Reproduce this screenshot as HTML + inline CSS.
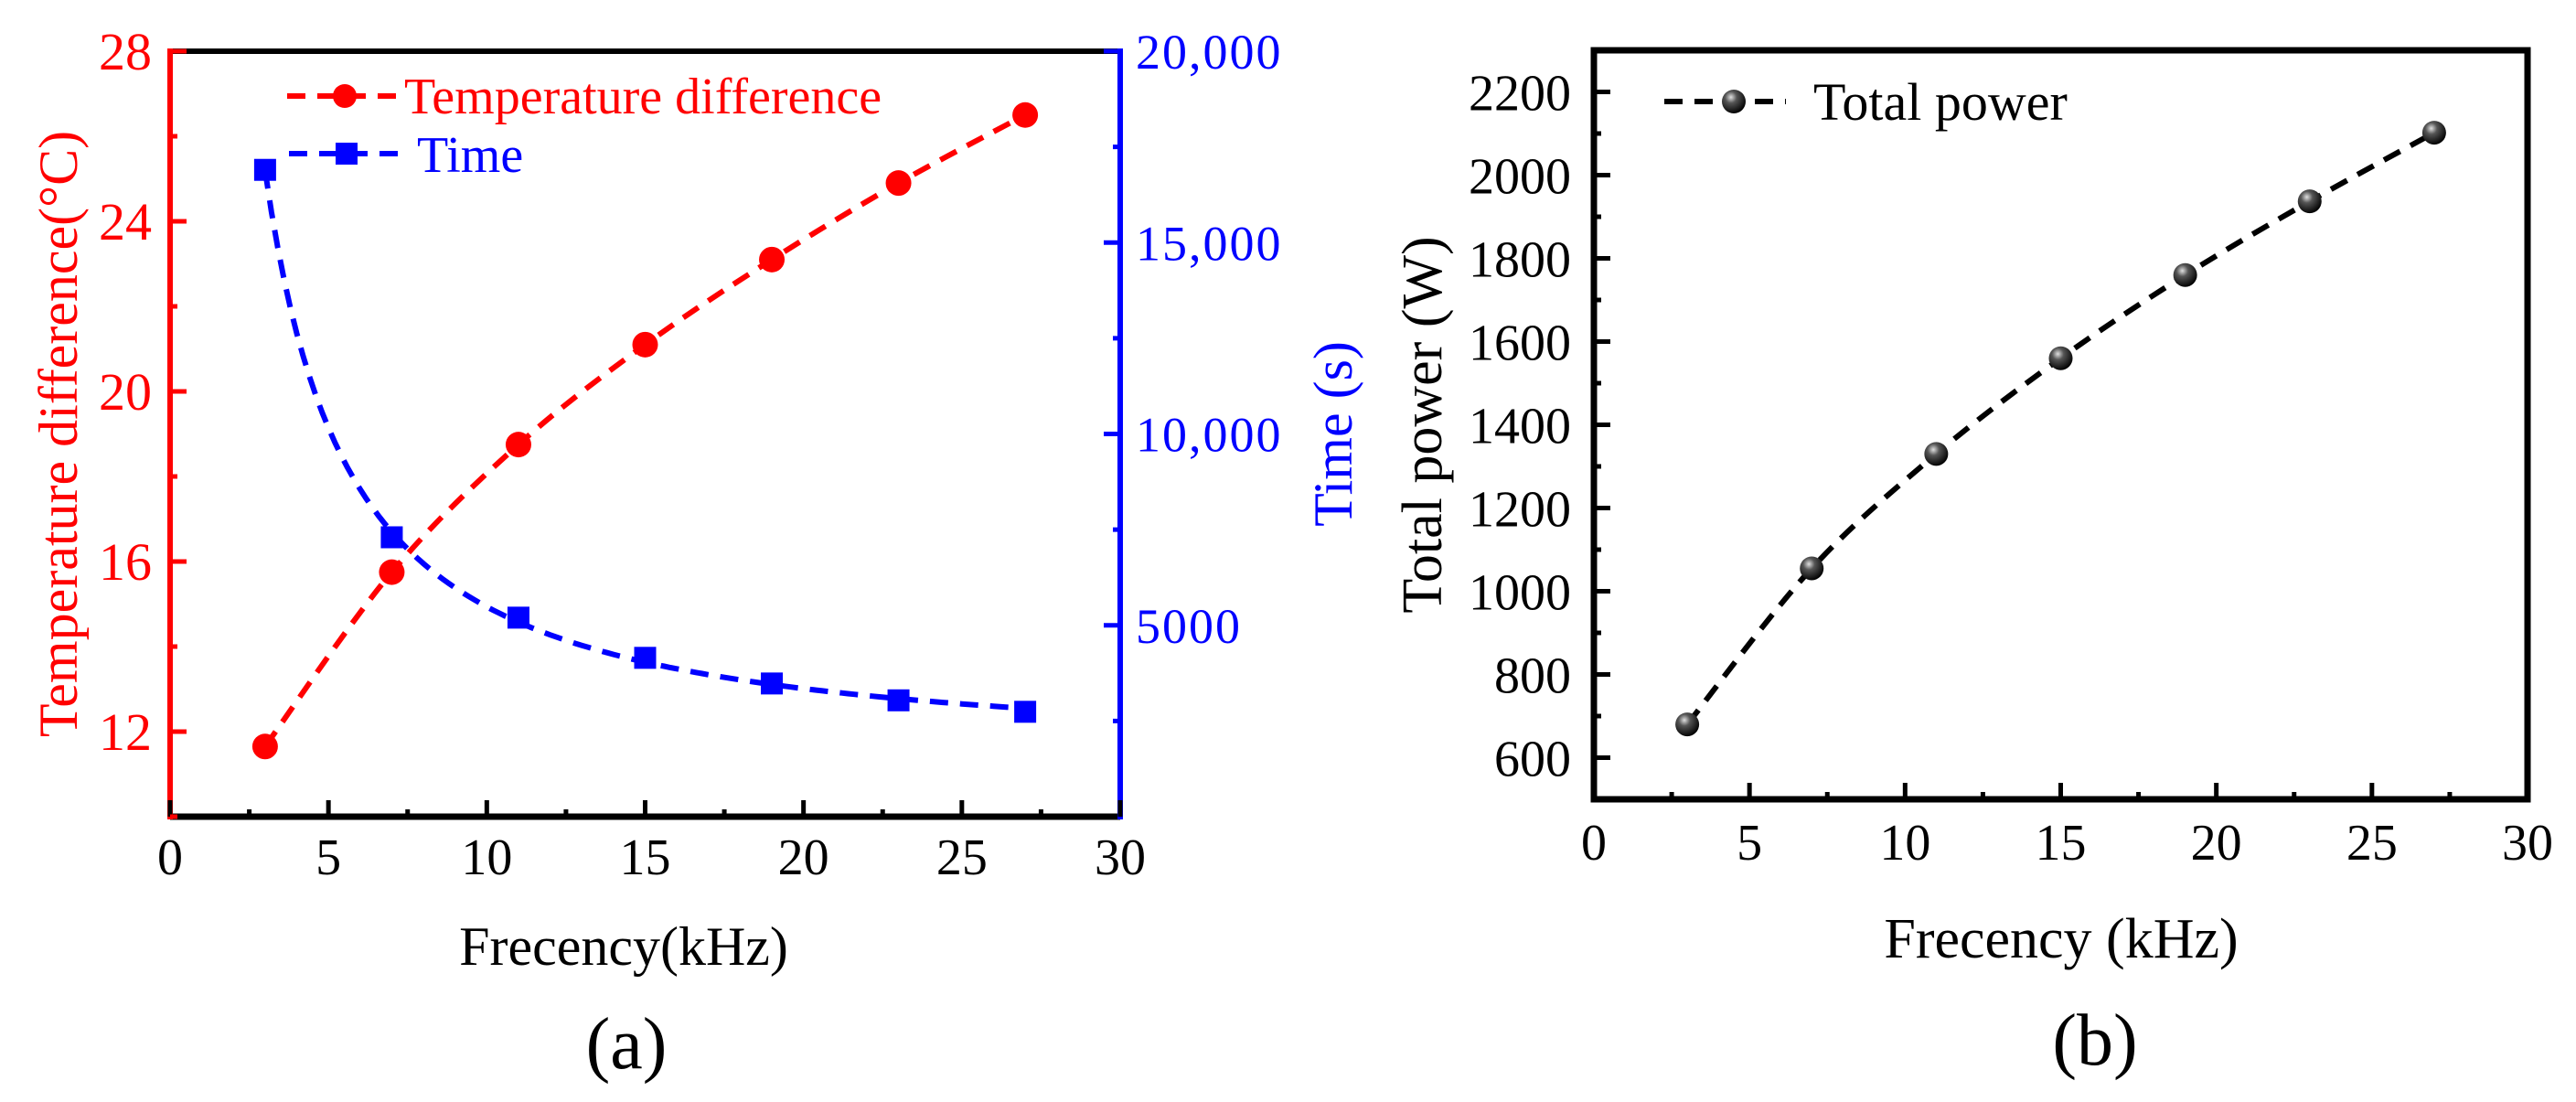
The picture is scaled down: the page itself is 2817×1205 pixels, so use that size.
<!DOCTYPE html>
<html><head><meta charset="utf-8"><style>
html,body{margin:0;padding:0;background:#fff;}
svg{display:block;}
text{font-family:"Liberation Serif","Times New Roman",serif !important;}
</style></head><body>
<svg id="fig" width="2817" height="1205" viewBox="0 0 2817 1205" xmlns="http://www.w3.org/2000/svg">
<defs>
<radialGradient id="sph" cx="0.38" cy="0.32" r="0.7">
<stop offset="0" stop-color="#e0e0e0"/><stop offset="0.35" stop-color="#555"/><stop offset="1" stop-color="#000"/>
</radialGradient>
</defs>
<g id="chartA"></g>
<g id="chartB"></g>
</svg>
<script>
const freqA = [3, 7, 11, 15, 19, 23, 27];
const tempDiff = [11.65, 15.75, 18.75, 21.1, 23.1, 24.9, 26.5];
const timeS = [16900, 7300, 5200, 4150, 3480, 3040, 2740];
const xTicks = [0, 5, 10, 15, 20, 25, 30];
const tempTicks = [12, 16, 20, 24, 28];
const timeTicks = [5000, 10000, 15000, 20000];
const timeTickLabels = ["5000", "10,000", "15,000", "20,000"];
const freqB = [3, 7, 11, 15, 19, 23, 27];
const power = [680, 1055, 1330, 1560, 1760, 1937, 2102];
const powerTicks = [600, 800, 1000, 1200, 1400, 1600, 1800, 2000, 2200];

const NS = "http://www.w3.org/2000/svg";
const FONT = "font-family:'Liberation Serif','Times New Roman',serif";
function mk(parent, tag, attrs, text) {
  const e = document.createElementNS(NS, tag);
  for (const k in attrs) e.setAttribute(k, attrs[k]);
  if (text !== undefined) { e.textContent = text; e.setAttribute("style", FONT); }
  parent.appendChild(e);
  return e;
}
function lin(d0, d1, r0, r1) { return v => r0 + (v - d0) / (d1 - d0) * (r1 - r0); }
function spline(pts) {
  let d = "M" + pts[0][0] + "," + pts[0][1];
  for (let i = 0; i < pts.length - 1; i++) {
    const p0 = pts[Math.max(0, i - 1)], p1 = pts[i], p2 = pts[i + 1], p3 = pts[Math.min(pts.length - 1, i + 2)];
    const c1x = p1[0] + (p2[0] - p0[0]) / 6, c1y = p1[1] + (p2[1] - p0[1]) / 6;
    const c2x = p2[0] - (p3[0] - p1[0]) / 6, c2y = p2[1] - (p3[1] - p1[1]) / 6;
    d += " C" + c1x + "," + c1y + " " + c2x + "," + c2y + " " + p2[0] + "," + p2[1];
  }
  return d;
}
// power-law fit y = c + a*x^(-p), least squares over grid of p
function powFit(xs, ys) {
  let best = null;
  for (let p = 0.3; p < 4; p += 0.005) {
    const e = xs.map(x => Math.pow(x, -p));
    const n = xs.length;
    const me = e.reduce((s, v) => s + v, 0) / n, my = ys.reduce((s, v) => s + v, 0) / n;
    let sxy = 0, sxx = 0;
    for (let i = 0; i < n; i++) { sxy += (e[i] - me) * (ys[i] - my); sxx += (e[i] - me) ** 2; }
    const a = sxy / sxx, c = my - a * me;
    let err = 0;
    for (let i = 0; i < n; i++) err += (c + a * e[i] - ys[i]) ** 2;
    if (!best || err < best.err) best = {a, p, c, err};
  }
  return x => best.c + best.a * Math.pow(x, -best.p);
}

/* ---------- Chart A ---------- */
const A = document.getElementById("chartA");
const axL = 186, axR = 1225, axT = 56, axB = 893;
const xA = lin(0, 30, axL, axR);
const yT = lin(10, 28, axB, axT);
const yS = lin(0, 20000, axB, axT);

let e;
e = mk(A, "line", {x1: axL, y1: axT, x2: axR, y2: axT, stroke: "#000", "stroke-width": 6});


e = mk(A, "line", {x1: axL, y1: axB, x2: axR, y2: axB, stroke: "#000", "stroke-width": 7});


e = mk(A, "line", {x1: axL, y1: axT - 3, x2: axL, y2: axB + 3, stroke: "#f00", "stroke-width": 6});


e = mk(A, "line", {x1: axR, y1: axT - 3, x2: axR, y2: axB + 3, stroke: "#00f", "stroke-width": 6});



for (let v = 0; v <= 30; v += 2.5) {
  const major = v % 5 === 0;
  e = mk(A, "line", {x1: xA(v), y1: axB, x2: xA(v), y2: axB - (major ? 18 : 8), stroke: "#000", "stroke-width": 5});
  
  
}
xTicks.forEach(v => {
  e = mk(A, "text", {x: xA(v), y: 956, "font-size": 56, "text-anchor": "middle", fill: "#000"}, String(v));
  
  
});
for (let v = 10; v <= 28; v += 2) {
  const major = v % 4 === 0;
  e = mk(A, "line", {x1: axL, y1: yT(v), x2: axL + (major ? 18 : 8), y2: yT(v), stroke: "#f00", "stroke-width": 5});
  
  
}
tempTicks.forEach(v => {
  e = mk(A, "text", {x: 166, y: yT(v) + 20, "font-size": 58, "text-anchor": "end", fill: "#f00"}, String(v));
  
  
});
for (let v = 2500; v <= 20000; v += 2500) {
  const major = v % 5000 === 0;
  e = mk(A, "line", {x1: axR, y1: yS(v), x2: axR - (major ? 18 : 8), y2: yS(v), stroke: "#00f", "stroke-width": 5});
  
  
}
timeTicks.forEach((v, i) => {
  e = mk(A, "text", {x: 1242, y: yS(v) + 19, "font-size": 54, "text-anchor": "start", fill: "#00f", "letter-spacing": 2}, timeTickLabels[i]);
  
  
});
e = mk(A, "text", {x: 0, y: 0, "font-size": 60, "text-anchor": "middle", fill: "#f00", transform: "translate(84," + ((axT + axB) / 2) + ") rotate(-90)"}, "Temperature difference(°C)");


e = mk(A, "text", {x: 0, y: 0, "font-size": 60, "text-anchor": "middle", fill: "#00f", transform: "translate(1478," + ((axT + axB) / 2) + ") rotate(-90)"}, "Time (s)");


e = mk(A, "text", {x: 682, y: 1055, "font-size": 60, "text-anchor": "middle", fill: "#000"}, "Frecency(kHz)");


e = mk(A, "text", {x: 685, y: 1168, "font-size": 80, "text-anchor": "middle", fill: "#000"}, "(a)");



const tPts = freqA.map((f, i) => [xA(f), yT(tempDiff[i])]);
e = mk(A, "path", {d: spline(tPts), fill: "none", stroke: "#f00", "stroke-width": 6, "stroke-dasharray": "20 13"});


const tf = powFit(freqA, timeS);
const fitPts = [];
for (let f = freqA[0]; f <= freqA[freqA.length - 1] + 0.001; f += 0.2) fitPts.push([xA(f), yS(tf(f))]);
e = mk(A, "path", {d: "M" + fitPts.map(p => p[0].toFixed(1) + "," + p[1].toFixed(1)).join(" L"), fill: "none", stroke: "#00f", "stroke-width": 6, "stroke-dasharray": "20 13"});


const sPts = freqA.map((f, i) => [xA(f), yS(timeS[i])]);
tPts.forEach(p => {
  e = mk(A, "circle", {cx: p[0], cy: p[1], r: 14, fill: "#f00"});
  
  
});
sPts.forEach(p => {
  e = mk(A, "rect", {x: p[0] - 12, y: p[1] - 12, width: 24, height: 24, fill: "#00f"});
  
  
});
e = mk(A, "line", {x1: 314, y1: 105, x2: 436, y2: 105, stroke: "#f00", "stroke-width": 6, "stroke-dasharray": "20 13"});


e = mk(A, "circle", {cx: 377, cy: 105, r: 13, fill: "#f00"});


e = mk(A, "text", {x: 442, y: 124, "font-size": 56, fill: "#f00"}, "Temperature difference");


e = mk(A, "line", {x1: 316, y1: 168, x2: 442, y2: 168, stroke: "#00f", "stroke-width": 6, "stroke-dasharray": "20 13"});


e = mk(A, "rect", {x: 367, y: 156, width: 24, height: 24, fill: "#00f"});


e = mk(A, "text", {x: 456, y: 188, "font-size": 56, fill: "#00f"}, "Time");



/* ---------- Chart B ---------- */
const B = document.getElementById("chartB");
const bL = 1743, bR = 2764, bT = 55, bB = 874;
const xB = lin(0, 30, bL, bR);
const yP = lin(500, 2300, bB, bT);
e = mk(B, "rect", {x: bL, y: bT, width: bR - bL, height: bB - bT, fill: "none", stroke: "#000", "stroke-width": 7});


for (let v = 0; v <= 30; v += 2.5) {
  const major = v % 5 === 0;
  e = mk(B, "line", {x1: xB(v), y1: bB, x2: xB(v), y2: bB - (major ? 18 : 8), stroke: "#000", "stroke-width": 5});
  
  
}
xTicks.forEach(v => {
  e = mk(B, "text", {x: xB(v), y: 940, "font-size": 56, "text-anchor": "middle", fill: "#000"}, String(v));
  
  
});
for (let v = 500; v <= 2300; v += 100) {
  const major = v % 200 === 0;
  e = mk(B, "line", {x1: bL, y1: yP(v), x2: bL + (major ? 18 : 8), y2: yP(v), stroke: "#000", "stroke-width": 5});
  
  
}
powerTicks.forEach(v => {
  e = mk(B, "text", {x: 1718, y: yP(v) + 20, "font-size": 56, "text-anchor": "end", fill: "#000"}, String(v));
  
  
});
e = mk(B, "text", {x: 0, y: 0, "font-size": 62, "text-anchor": "middle", fill: "#000", transform: "translate(1576," + ((bT + bB) / 2) + ") rotate(-90)"}, "Total power (W)");


e = mk(B, "text", {x: 2254, y: 1047, "font-size": 62, "text-anchor": "middle", fill: "#000"}, "Frecency (kHz)");


e = mk(B, "text", {x: 2291, y: 1164, "font-size": 80, "text-anchor": "middle", fill: "#000"}, "(b)");


const pPts = freqB.map((f, i) => [xB(f), yP(power[i])]);
e = mk(B, "path", {d: spline(pPts), fill: "none", stroke: "#000", "stroke-width": 6, "stroke-dasharray": "20 13"});


pPts.forEach(p => {
  e = mk(B, "circle", {cx: p[0], cy: p[1], r: 13, fill: "url(#sph)"});
  
  
});
e = mk(B, "line", {x1: 1820, y1: 111, x2: 1953, y2: 111, stroke: "#000", "stroke-width": 6, "stroke-dasharray": "20 13"});


e = mk(B, "circle", {cx: 1896, cy: 111, r: 13, fill: "url(#sph)"});


e = mk(B, "text", {x: 1983, y: 131, "font-size": 58, fill: "#000"}, "Total power");


</script>
</body></html>
